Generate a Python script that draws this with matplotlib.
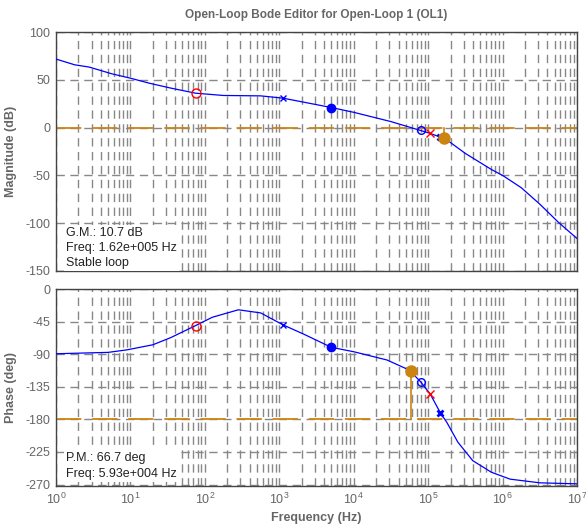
import matplotlib
matplotlib.use("Agg")
import matplotlib.pyplot as plt
import numpy as np

plt.rcParams['font.family'] = ['Liberation Sans', 'DejaVu Sans']
plt.rcParams['axes.unicode_minus'] = False

# ---- data ----
freq_mag = [1, 1.78, 2.8, 5.6, 10, 17.8, 35, 75, 178, 562, 1122, 5000, 10000, 31600,
            79000, 106000, 155000, 178000, 316000, 708000, 1e6, 1.78e6, 3.16e6, 5.62e6, 1e7]
mag_db = [71.7, 65.7, 63.3, 56.3, 51.7, 46.5, 41.3, 36.0, 33.6, 33.2, 30.8, 21.0, 16.0, 6.3,
          -3.0, -6.0, -10.7, -12.8, -27.0, -43.8, -50.0, -62.8, -80.0, -99.0, -116.0]

freq_ph = [1, 5, 9, 20, 35, 75, 126, 282, 562, 1122, 2200, 5000, 10000, 28000, 56000,
           79000, 106000, 146000, 178000, 251000, 398000, 708000, 1.26e6, 3.16e6, 1e7]
phase_deg = [-89.4, -87.5, -84.0, -77.0, -67.0, -50.5, -39.0, -28.7, -33.0, -49.5, -63.0,
             -80.5, -86.6, -98.0, -112.0, -128.0, -144.5, -171.0, -184.0, -211.5, -237.0,
             -253.0, -262.5, -267.6, -269.0]

# compensator zeros / poles (freq, mag, phase)
zero_open_f, zero_open_m, zero_open_p = 75, 36.0, -50.5
pole_x_f, pole_x_m, pole_x_p = 1122, 30.8, -49.5
filled_f, filled_m, filled_p = 5000, 21.0, -80.5
circ_f, circ_m, circ_p = 79000, -3.0, -128.0
redx_f, redx_m, redx_p = 106000, -6.0, -144.5
boldx_f, boldx_m, boldx_p = 146000, -9.5, -171.0

gm_db, gm_freq = 10.7, 1.62e5
pm_deg, pm_freq = 66.7, 5.93e4

mag_ticks = [-150, -100, -50, 0, 50, 100]
phase_ticks = [-270, -225, -180, -135, -90, -45, 0]

GRAY = '#666666'
ORANGE = '#CC8411'
BLUE = '#0000FF'

fig = plt.figure(figsize=(5.86, 5.30), dpi=100)
ax1 = fig.add_axes([0.0956, 0.4887, 0.889, 0.4509])
ax2 = fig.add_axes([0.0956, 0.0830, 0.889, 0.3717])

for ax in (ax1, ax2):
    ax.set_xscale('log')
    ax.set_xlim(1, 1e7)
    ax.grid(True, which='both', axis='x', color='#888888', linestyle=(0, (6, 4)), linewidth=1.0)
    ax.grid(True, which='major', axis='y', color='#888888', linestyle=(0, (6, 4)), linewidth=1.0)
    ax.set_axisbelow(True)
    for s in ax.spines.values():
        s.set_color('#444444')
        s.set_linewidth(1.0)
    ax.tick_params(which='both', direction='in', length=0, colors='#444444', labelcolor=GRAY,
                   labelsize=9, pad=4)
    ax.set_xticks([10.0**k for k in range(8)])

# magnitude
ax1.set_ylim(-150, 100)
ax1.set_yticks(mag_ticks)
ax1.tick_params(axis='x', labelbottom=False)
ax1.axhline(0, color=ORANGE, linestyle=(0, (14, 6)), linewidth=1.3, zorder=2)
ax1.plot(freq_mag, mag_db, color=BLUE, linewidth=0.9, zorder=3)
ax1.plot([gm_freq, gm_freq], [0, -gm_db], color=ORANGE, linewidth=1.2, zorder=3)
ax1.plot(boldx_f, boldx_m, marker='x', color=BLUE, ms=5, mew=2, zorder=4)
ax1.plot(gm_freq, -gm_db, 'o', color=ORANGE, ms=8, zorder=5)
ax1.plot(zero_open_f, zero_open_m, 'o', mfc='none', mec='red', ms=6.5, mew=1, zorder=4)
ax1.plot(pole_x_f, pole_x_m, 'x', color=BLUE, ms=4, mew=1, zorder=4)
ax1.plot(filled_f, filled_m, 'o', color=BLUE, ms=6, zorder=4)
ax1.plot(circ_f, circ_m, 'o', mfc='none', mec=BLUE, ms=5.5, mew=1, zorder=4)
ax1.plot(redx_f, redx_m, 'x', color='red', ms=6, mew=1, zorder=4)
ax1.set_ylabel('Magnitude (dB)', fontsize=9, fontweight='bold', color=GRAY, labelpad=6)
ax1.set_title('Open-Loop Bode Editor for Open-Loop 1 (OL1)', fontsize=8.5, fontweight='bold',
              color=GRAY, pad=10)
ax1.text(0.02, 0.008,
         'G.M.: %.1f dB\nFreq: 1.62e+005 Hz\nStable loop' % gm_db,
         transform=ax1.transAxes, fontsize=9, color='#222222', va='bottom', ha='left',
         linespacing=1.35, zorder=6,
         bbox=dict(facecolor='white', edgecolor='none', pad=1.5))

# phase
ax2.set_ylim(-272, 0)
ax2.set_yticks(phase_ticks)
ax2.axhline(-180, color=ORANGE, linestyle=(0, (14, 6)), linewidth=1.3, zorder=2)
ax2.plot(freq_ph, phase_deg, color=BLUE, linewidth=0.9, zorder=3)
ax2.plot([pm_freq, pm_freq], [-180, -180 + pm_deg], color=ORANGE, linewidth=1.2, zorder=3)
ax2.plot(pm_freq, -180 + pm_deg, 'o', color=ORANGE, ms=8, zorder=5)
ax2.plot(zero_open_f, zero_open_p, 'o', mfc='none', mec='red', ms=6.5, mew=1, zorder=4)
ax2.plot(pole_x_f, pole_x_p, 'x', color=BLUE, ms=4, mew=1, zorder=4)
ax2.plot(filled_f, filled_p, 'o', color=BLUE, ms=6, zorder=4)
ax2.plot(circ_f, circ_p, 'o', mfc='none', mec=BLUE, ms=5.5, mew=1, zorder=4)
ax2.plot(redx_f, redx_p, 'x', color='red', ms=6, mew=1, zorder=4)
ax2.plot(boldx_f, boldx_p, 'x', color=BLUE, ms=5, mew=2, zorder=4)
ax2.set_ylabel('Phase (deg)', fontsize=9, fontweight='bold', color=GRAY, labelpad=6)
ax2.set_xlabel('Frequency (Hz)', fontsize=9, fontweight='bold', color=GRAY, labelpad=4)
ax2.text(0.02, 0.03,
         'P.M.: %.1f deg\nFreq: 5.93e+004 Hz' % pm_deg,
         transform=ax2.transAxes, fontsize=9, color='#222222', va='bottom', ha='left',
         linespacing=1.4, zorder=6,
         bbox=dict(facecolor='white', edgecolor='none', pad=1.5))

fig.savefig('out.png', dpi=100)
